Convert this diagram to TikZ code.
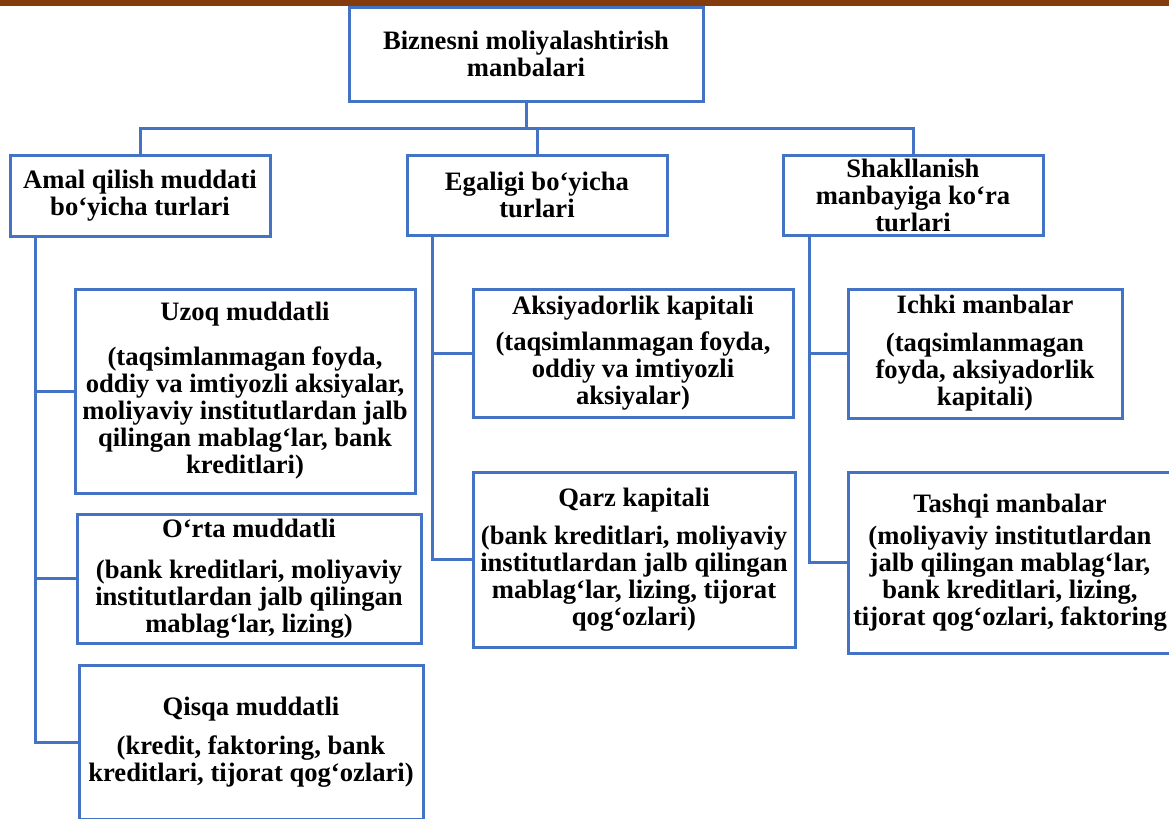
\documentclass[tikz,border=0pt]{standalone}
\usepackage{fontspec}
\setmainfont{Liberation Serif}
\usepackage{tikz}
\usetikzlibrary{positioning}
\usetikzlibrary{calc}
\definecolor{boxblue}{HTML}{4472C4}
\definecolor{barbrown}{HTML}{843C0C}
\tikzset{line/.style={draw=boxblue, line width=1.5pt}}

\begin{document}
\begin{tikzpicture}[x=0.5pt,y=-0.5pt]
\tikzstyle{block} = [rectangle, draw=boxblue, line width=1.5pt, align=center, inner sep=0pt, font=\bfseries\fontsize{13.3}{13.5}\selectfont]

\useasboundingbox (0,0) rectangle (1169,819);
\fill[barbrown] (0,0) rectangle (1169,6);

% blocks
    \node [block, minimum width=177pt, minimum height=47pt] (src) at (526,54) {Biznesni moliyalashtirish\\manbalari};
    \node [block, minimum width=130pt, minimum height=40.5pt] (amal) at (140,195.5) {Amal qilish muddati\\bo‘yicha turlari};
    \node [block, minimum width=130pt, minimum height=40pt] (egal) at (537,195) {Egaligi bo‘yicha\\turlari};
    \node [block, minimum width=130pt, minimum height=40pt] (shakl) at (913,195) {Shakllanish\\manbayiga ko‘ra\\turlari};
    \node [block, minimum width=170pt, minimum height=102pt] (uzoq) at (245,391) {Uzoq muddatli\\[9pt](taqsimlanmagan foyda,\\oddiy va imtiyozli aksiyalar,\\moliyaviy institutlardan jalb\\qilingan mablag‘lar, bank\\kreditlari)};
    \node [block, minimum width=172pt, minimum height=64.5pt] (orta) at (249,578.5) {O‘rta muddatli\\[7pt](bank kreditlari, moliyaviy\\institutlardan jalb qilingan\\mablag‘lar, lizing)};
    \node [block, minimum width=172pt, minimum height=77pt] (qisqa) at (251,742) {Qisqa muddatli\\[6pt](kredit, faktoring, bank\\kreditlari, tijorat qog‘ozlari)};
    \node [block, minimum width=160pt, minimum height=64pt] (aksiya) at (633,353) {Aksiyadorlik kapitali\\[4.5pt](taqsimlanmagan foyda,\\oddiy va imtiyozli\\aksiyalar)};
    \node [block, minimum width=161pt, minimum height=87.5pt] (qarz) at (634,559.5) {Qarz kapitali\\[5.5pt](bank kreditlari, moliyaviy\\institutlardan jalb qilingan\\mablag‘lar, lizing, tijorat\\qog‘ozlari)};
    \node [block, minimum width=137pt, minimum height=64.5pt] (ichki) at (985,353.5) {Ichki manbalar\\[5.5pt](taqsimlanmagan\\foyda, aksiyadorlik\\kapitali)};
    \node [block, minimum width=162pt, minimum height=90.5pt] (tashqi) at (1010,562.5) {Tashqi manbalar\\[2.5pt](moliyaviy institutlardan\\jalb qilingan mablag‘lar,\\bank kreditlari, lizing,\\tijorat qog‘ozlari, faktoring};
% lines
    \coordinate (bus) at (0,128);
    \path [line] (src.south) -- (src.south |- bus);
    \path [line] (amal.north) -- (amal.north |- bus) -- (shakl.north |- bus) -- (shakl.north);
    \path [line] (egal.north |- bus) -- (egal.north);
    \path [line] ([xshift=13.5pt]amal.south west) |- (qisqa.west);
    \path [line] ([xshift=13.5pt]amal.south west) |- (uzoq.west);
    \path [line] ([xshift=13.5pt]amal.south west) |- (orta.west);
    \path [line] ([xshift=13.5pt]egal.south west) |- (qarz.west);
    \path [line] ([xshift=13.5pt]egal.south west) |- (aksiya.west);
    \path [line] ([xshift=14pt]shakl.south west) |- (tashqi.west);
    \path [line] ([xshift=14pt]shakl.south west) |- (ichki.west);
\end{tikzpicture}
\end{document}
